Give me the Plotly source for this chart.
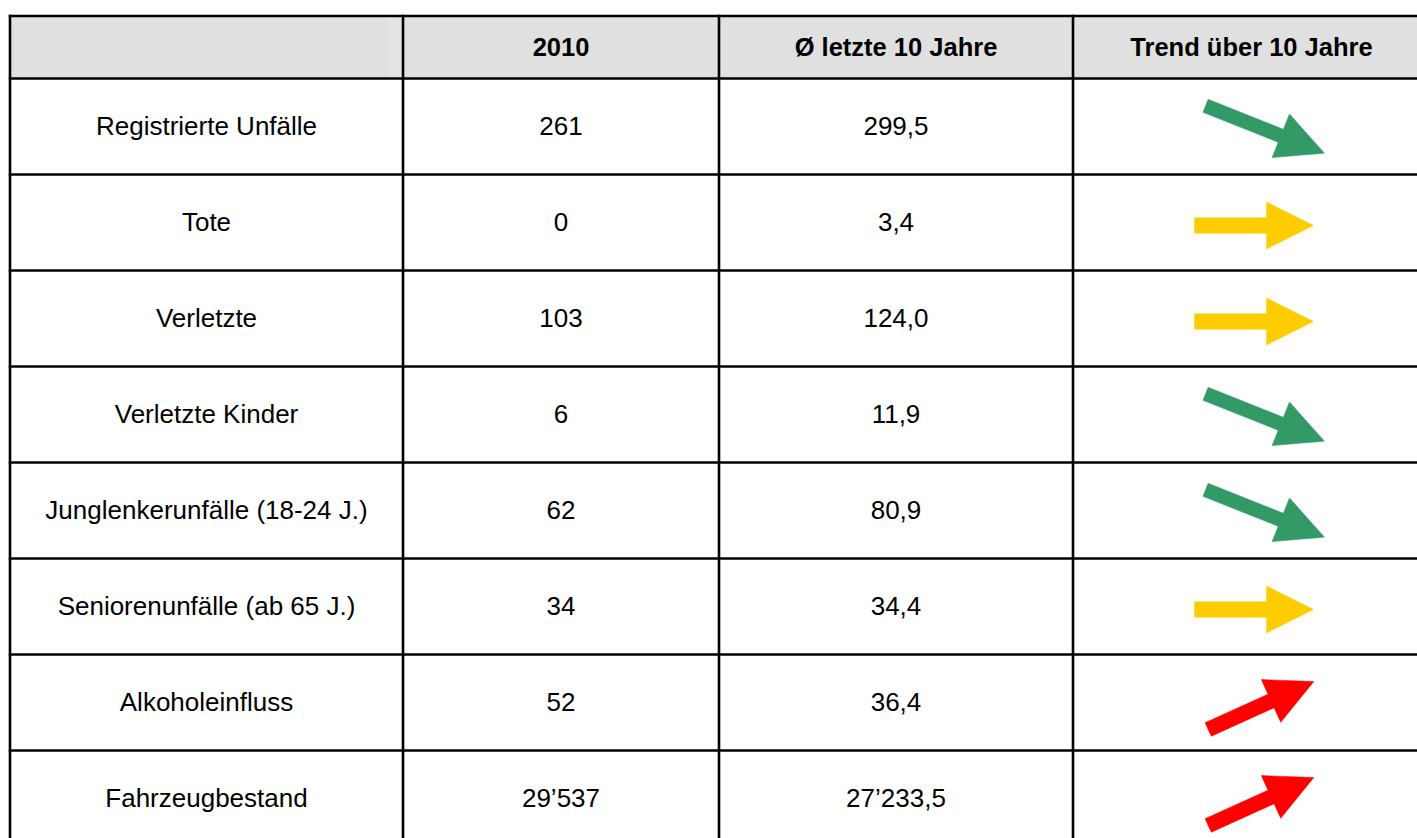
import math
import plotly.graph_objects as go

# ---------------- data ----------------
header = ["", "2010", "Ø letzte 10 Jahre", "Trend über 10 Jahre"]
categories = [
    "Registrierte Unfälle",
    "Tote",
    "Verletzte",
    "Verletzte Kinder",
    "Junglenkerunfälle (18-24 J.)",
    "Seniorenunfälle (ab 65 J.)",
    "Alkoholeinfluss",
    "Fahrzeugbestand",
]
values_2010 = ["261", "0", "103", "6", "62", "34", "52", "29’537"]
values_avg = ["299,5", "3,4", "124,0", "11,9", "80,9", "34,4", "36,4", "27’233,5"]
trends = ["down", "flat", "flat", "down", "down", "flat", "up", "up"]

# ---------------- layout geometry / style ----------------
W, H = 1417, 838
col_edges = [10, 403, 719, 1073, 1430]
top = 16
header_bottom = 78.5
row_h = 96
FONT = "Liberation Sans, Arial, sans-serif"
FS = 26
TEXT_DY = 2

trend_style = {
    "down": dict(color="#339966", angle=21.7, length=128, cx=1265, shaft=14),
    "flat": dict(color="#FFCC00", angle=0.0, length=119, cx=1254, shaft=15.5),
    "up": dict(color="#FF0000", angle=-24.4, length=116, cx=1261, shaft=15),
}
HEAD_W = 47
HEAD_L = 47

fig = go.Figure()
shapes = []

# header background
shapes.append(dict(type="rect", xref="x", yref="y", x0=col_edges[0], x1=col_edges[-1],
                   y0=top, y1=header_bottom, fillcolor="#E0E0E0", line=dict(width=0), layer="below"))
shapes.append(dict(type="rect", xref="x", yref="y", x0=388, x1=402,
                   y0=top, y1=header_bottom, fillcolor="#E4E4E4", line=dict(width=0), layer="below"))

n = len(categories)
row_tops = [header_bottom + i * row_h for i in range(n)]
bottom = header_bottom + n * row_h

# horizontal lines
for y in [top, header_bottom] + [t + row_h for t in row_tops]:
    shapes.append(dict(type="line", xref="x", yref="y", x0=col_edges[0] - 1.2, x1=col_edges[-1],
                       y0=y, y1=y, line=dict(color="black", width=2.6)))
# vertical lines
for x in col_edges:
    shapes.append(dict(type="line", xref="x", yref="y", x0=x, x1=x,
                       y0=top - 1.2, y1=bottom, line=dict(color="black", width=2.6)))

# header text
col_centers = [(col_edges[i] + col_edges[i + 1]) / 2 for i in range(4)]
hy = (top + header_bottom) / 2 + TEXT_DY
fig.add_trace(go.Scatter(
    x=col_centers[1:], y=[hy] * 3, mode="text",
    text=["<b>%s</b>" % h for h in header[1:]],
    textposition="middle center",
    textfont=dict(family=FONT, size=FS - 0.5, color="black"),
    hoverinfo="skip", showlegend=False))

# body text
row_centers = [t + row_h / 2 for t in row_tops]
for ci, col in enumerate([categories, values_2010, values_avg]):
    fig.add_trace(go.Scatter(
        x=[col_centers[ci]] * n, y=[rc + TEXT_DY for rc in row_centers], mode="text", text=col,
        textposition="middle center",
        textfont=dict(family=FONT, size=FS, color="black"),
        hoverinfo="skip", showlegend=False))

# trend arrows
for rc, tr in zip(row_centers, trends):
    st = trend_style[tr]
    th = math.radians(st["angle"])
    ux, uy = math.cos(th), math.sin(th)
    vx, vy = -uy, ux
    cx, cy = st["cx"], rc + 3
    L = st["length"]
    s = st["shaft"] / 2
    hw = HEAD_W / 2

    def pt(a, b):
        return (cx + a * ux + b * vx, cy + a * uy + b * vy)

    base = L / 2 - HEAD_L
    pts = [pt(-L / 2, -s), pt(base, -s), pt(base, -hw), pt(L / 2, 0),
           pt(base, hw), pt(base, s), pt(-L / 2, s), pt(-L / 2, -s)]
    fig.add_trace(go.Scatter(
        x=[p[0] for p in pts], y=[p[1] for p in pts], mode="lines",
        fill="toself", fillcolor=st["color"], line=dict(color=st["color"], width=0.5),
        hoverinfo="skip", showlegend=False))

fig.update_layout(
    width=W, height=H, autosize=False,
    margin=dict(l=0, r=0, t=0, b=0),
    paper_bgcolor="white", plot_bgcolor="white",
    shapes=shapes,
    xaxis=dict(range=[0, W], visible=False, fixedrange=True),
    yaxis=dict(range=[H, 0], visible=False, fixedrange=True),
)

fig.write_html("out.html", config={"displayModeBar": False},
               post_script="document.body.style.margin='0px';document.body.style.overflow='hidden';")
